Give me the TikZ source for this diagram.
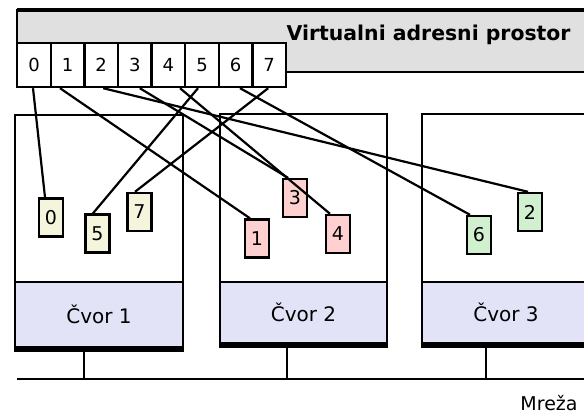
\documentclass[tikz,border=0pt]{standalone}
\usepackage{fontspec}
\setmainfont{DejaVu Sans}
\usepackage{tikz}
\usetikzlibrary{positioning,calc}

\definecolor{hdrgray}{RGB}{224,224,224}
\definecolor{cvorblue}{RGB}{227,227,247}
\definecolor{pgyellow}{RGB}{245,245,222}
\definecolor{pgred}{RGB}{255,208,208}
\definecolor{pggreen}{RGB}{208,240,208}

\tikzset{
  cell/.style={draw,line width=2.4pt,fill=white,minimum width=33.6pt,minimum height=44pt,inner sep=0pt,font=\fontsize{18}{20}\selectfont},
  page/.style={draw,line width=2.4pt,minimum width=24pt,minimum height=38pt,inner sep=0pt,font=\fontsize{19}{21}\selectfont},
  nodebox/.style={draw,line width=2.4pt,fill=white,inner sep=0pt},
  cvorbox/.style={draw,line width=2.4pt,fill=cvorblue,inner sep=0pt,font=\fontsize{20}{24}\selectfont},
  link/.style={line width=2.2pt},
}

\begin{document}
\begin{tikzpicture}[x=1pt,y=-1pt]
\clip (0,0) rectangle (584,415);
% Virtual address space
\draw[line width=2.4pt,fill=hdrgray] (17,10) rectangle (600,72);
\draw[line width=3.4pt] (17,10) -- (600,10);
\node[anchor=west,inner sep=0pt,font=\bfseries\fontsize{20.4}{24}\selectfont] (title) at (286.5,35) {Virtualni adresni prostor};
% Address cells
\foreach \i in {0,...,7}
  \node[cell] (c\i) at (34+33.6*\i,65) {\i};
% Nodes
\node[nodebox,minimum width=168pt,minimum height=232pt] (n1) at (99,231) {};
\node[cvorbox,minimum width=168pt,minimum height=65pt,anchor=south] (cvor1) at (n1.south) {Čvor 1};
\node[nodebox,minimum width=167pt,minimum height=229pt] (n2) at (303.5,228.5) {};
\node[cvorbox,minimum width=167pt,minimum height=61pt,anchor=south] (cvor2) at (n2.south) {Čvor 2};
\node[nodebox,minimum width=168pt,minimum height=229pt] (n3) at (506,228.5) {};
\node[cvorbox,minimum width=168pt,minimum height=61pt,anchor=south] (cvor3) at (n3.south) {Čvor 3};
\foreach \n in {1,2,3}
  \draw[line width=5pt] ([yshift=-1pt]cvor\n.south west) -- ([yshift=-1pt]cvor\n.south east);
% Network
\coordinate (netL) at (17,379);
\coordinate (netR) at (590,379);
\draw[link] (netL) -- (netR);
\draw[link] ([xshift=-15pt]cvor1.south) -- ([xshift=-15pt]cvor1.south |- netL);
\draw[link] ([xshift=-16.5pt]cvor2.south) -- ([xshift=-16.5pt]cvor2.south |- netL);
\draw[link] ([xshift=-20pt]cvor3.south) -- ([xshift=-20pt]cvor3.south |- netL);
\node[inner sep=0pt,font=\fontsize{19}{22}\selectfont] (mreza) at (549,403) {Mreža};
% Pages
\node[page,fill=pgyellow] (p0) at (51,217.5) {0};
\node[page,fill=pgyellow] (p5) at (97.5,233.5) {5};
\node[page,fill=pgyellow] (p7) at (139.5,212) {7};
\node[page,fill=pgred] (p1) at (257,238.5) {1};
\node[page,fill=pgred] (p3) at (295,198) {3};
\node[page,fill=pgred] (p4) at (338,234) {4};
\node[page,fill=pggreen] (p6) at (479,235) {6};
\node[page,fill=pggreen] (p2) at (530,212) {2};
% Mapping
\draw[link] ([xshift=-1pt]c0.south) -- ([xshift=-6pt]p0.north);
\draw[link] ([xshift=-7.6pt]c1.south) -- ([xshift=-7pt]p1.north);
\draw[link] ([xshift=2pt]c2.south) -- ([xshift=-2pt]p2.north);
\draw[link] ([xshift=5pt]c3.south) -- ([xshift=-7pt]p3.north);
\draw[link] ([xshift=11.6pt]c4.south) -- ([xshift=-8pt]p4.north);
\draw[link] ([xshift=-4pt]c5.south) -- ([xshift=-4.5pt]p5.north);
\draw[link] ([xshift=4.4pt]c6.south) -- ([xshift=-9pt]p6.north);
\draw[link] ([xshift=-1pt]c7.south) -- ([xshift=-4.5pt]p7.north);
\end{tikzpicture}
\end{document}
